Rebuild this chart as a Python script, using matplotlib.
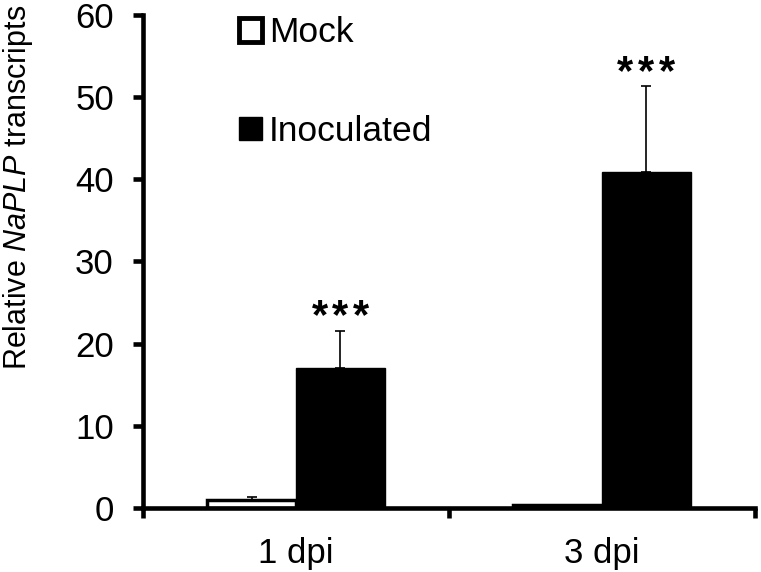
import matplotlib
matplotlib.use("Agg")
import matplotlib.pyplot as plt
import numpy as np
from matplotlib.patches import Patch

plt.rcParams['font.family'] = ['Liberation Sans', 'DejaVu Sans']
plt.rcParams['mathtext.fontset'] = 'custom'
plt.rcParams['mathtext.rm'] = 'Liberation Sans'
plt.rcParams['mathtext.it'] = 'Liberation Sans:italic'

# data
categories = ["1 dpi", "3 dpi"]
mock = [1.0, 0.4]
mock_err = [0.3, 0.0]
inoculated = [17.0, 40.9]
inoculated_err = [4.5, 10.4]
stars = ["***", "***"]

x = np.arange(len(categories))
w = 0.29
lw = 3.3

fig = plt.figure(figsize=(7.61, 5.72), dpi=100)
ax = fig.add_axes([0.188, 0.112, 0.804, 0.862])

ax.bar(x - w/2, mock, w, color='white', edgecolor='black', linewidth=2.5,
       label='Mock', zorder=2)
ax.bar(x + w/2, inoculated, w, color='black', edgecolor='black', linewidth=1,
       label='Inoculated', zorder=2)
ax.errorbar(x - w/2, mock, yerr=[np.zeros(len(x)), mock_err], fmt='none',
            ecolor='black', elinewidth=1.2, capsize=3.5, capthick=1.2, zorder=1)
ax.errorbar(x + w/2, inoculated, yerr=[np.zeros(len(x)), inoculated_err], fmt='none',
            ecolor='black', elinewidth=1.2, capsize=3.5, capthick=1.2, zorder=1)

# significance stars, drawn one by one so they sit spaced apart
for i in range(len(x)):
    top = inoculated[i] + inoculated_err[i]
    for k, ch in enumerate(stars[i]):
        dx = (k - (len(stars[i]) - 1) / 2) * 15
        ax.annotate(ch, (x[i] + w/2, top), xytext=(dx, 2),
                    textcoords='offset points', ha='center', va='baseline',
                    fontsize=30, fontweight='bold')

ax.set_xlim(-0.5, len(x) - 0.5)
ax.set_ylim(0, 60)
ax.set_yticks(np.arange(0, 61, 10))
ax.set_xticks(x)
ax.set_xticklabels(categories)
ax.set_xticks(np.arange(-0.5, len(x), 1.0), minor=True)
ax.tick_params(axis='x', which='major', length=0, pad=21, labelsize=25)
ax.tick_params(axis='x', which='minor', length=7, width=lw, direction='out')
ax.tick_params(axis='y', length=7, width=lw, direction='out', pad=14, labelsize=25)

for s in ['top', 'right']:
    ax.spines[s].set_visible(False)
for s in ['left', 'bottom']:
    ax.spines[s].set_linewidth(lw)

ax.set_ylabel(r"Relative $\mathit{NaPLP}$ transcripts", fontsize=22)
ax.yaxis.set_label_coords(-0.176, 0.65)

handles = [Patch(facecolor='white', edgecolor='black', linewidth=3.5),
           Patch(facecolor='black', edgecolor='black')]
ax.legend(handles, ['Mock', 'Inoculated'], loc='upper left',
          bbox_to_anchor=(0.128, 1.033), frameon=False, fontsize=25.5,
          handlelength=0.65, handleheight=0.65, handletextpad=0.2,
          labelspacing=1.85, borderpad=0)

fig.savefig("out.png", dpi=100)
